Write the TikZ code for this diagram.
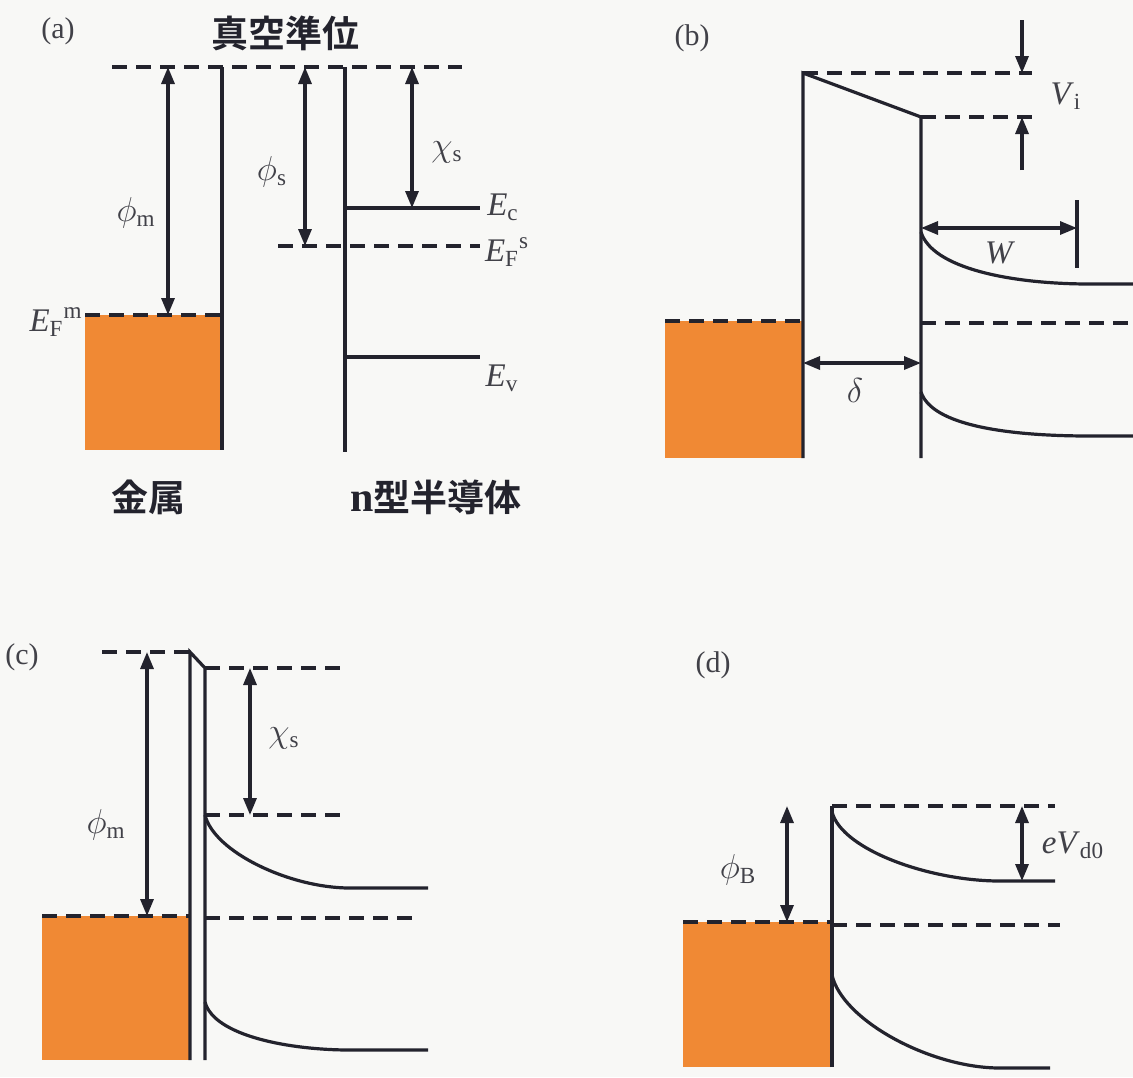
\documentclass[tikz,border=0pt]{standalone}
\usepackage{fontspec}
\setmainfont{Liberation Serif}
\newfontfamily\jpfont{Noto Sans CJK JP}[BoldFont={Noto Sans CJK JP Bold}]
\usetikzlibrary{arrows.meta, positioning}
\definecolor{bandline}{RGB}{35,35,45}
\definecolor{labelgray}{RGB}{65,65,72}
\definecolor{metalfill}{RGB}{240,137,52}
\definecolor{paper}{RGB}{248,248,246}

\begin{document}
\begin{tikzpicture}[x=0.5pt, y=-0.5pt, line width=1.6pt, color=bandline,
    level/.style={dash pattern=on 7.5pt off 4.5pt},
    dim/.style={{Triangle[length=8.5pt,width=6.5pt]}-{Triangle[length=8.5pt,width=6.5pt]}},
    tip/.style={-{Triangle[length=8.5pt,width=6.5pt]}},
    lbl/.style={text=labelgray, font=\fontsize{16.5}{18}\selectfont, inner sep=0pt},
    tag/.style={text=labelgray, font=\fontsize{15}{17}\selectfont, inner sep=0pt},
    cjk/.style={text=bandline, font=\jpfont\bfseries\fontsize{18.5}{20}\selectfont, inner sep=0pt}]
  \fill[paper] (0,0) rectangle (1133,1077);
  \useasboundingbox (0,0) rectangle (1133,1077);

  % (a) before contact
  \fill[metalfill] (85,315) rectangle (221,450);
  \draw (222,67) -- (222,450);
  \draw (345,67) -- (345,452);
  \draw (345,208) -- (480,208);
  \draw (345,357) -- (480,357);
  \draw[level] (112,67) -- (462,67);
  \draw[level] (85,315) -- (222,315);
  \draw[level] (278,246) -- (480,246);
  \coordinate (a1) at (168,67); \coordinate (a2) at (168,315);
  \coordinate (a3) at (305,67); \coordinate (a4) at (305,246);
  \coordinate (a5) at (412,67); \coordinate (a6) at (412,208);
  \draw[dim] (a1) -- (a2);
  \draw[dim] (a3) -- (a4);
  \draw[dim] (a5) -- (a6);
  \node[tag] (tagA) at (58,31) {(a)};
  \node[cjk] (vacA) at (285,33) {真空準位};
  \node[lbl] (phimA) at (136,213) {$\phi_{\mathrm{m}}$};
  \node[lbl] (efmA) at (56,322) {\textit{E}$_{\mathrm{F}}{}^{\mathrm{m}}$};
  \node[lbl] (phisA) at (272,172) {$\phi_{\mathrm{s}}$};
  \node[lbl] (chisA) at (447,152) {$\chi_{\mathrm{s}}$};
  \node[lbl] (ecA) at (503,207) {\textit{E}$_{\mathrm{c}}$};
  \node[lbl] (efsA) at (507,252) {\textit{E}$_{\mathrm{F}}{}^{\mathrm{s}}$};
  \node[lbl] (evA) at (502,378) {\textit{E}$_{\mathrm{v}}$};
  \node[cjk] (metalA) at (148,497) {金属};
  \node[cjk] (semiA) at (436,497) {{\rmfamily\bfseries\fontsize{21}{22}\selectfont n}型半導体};

  % (b) with interface layer
  \fill[metalfill] (665,321) rectangle (802,458);
  \draw (803,458) -- (803,73) -- (921,117) -- (921,458);
  \draw[level] (665,321) -- (803,321);
  \draw[level] (803,73) -- (1032,73);
  \draw[level] (921,117) -- (1040,117);
  \draw[level] (921,323) -- (1133,323);
  \draw (921,232) .. controls (932,268) and (1010,284) .. (1090,284) -- (1133,284);
  \draw (921,392) .. controls (932,426) and (1010,436) .. (1090,436) -- (1133,436);
  \coordinate (b1) at (1022,20); \coordinate (b2) at (1022,73);
  \coordinate (b3) at (1022,170); \coordinate (b4) at (1022,117);
  \coordinate (b5) at (921,228); \coordinate (b6) at (1077,228);
  \coordinate (b7) at (803,363); \coordinate (b8) at (921,363);
  \draw[tip] (b1) -- (b2);
  \draw[tip] (b3) -- (b4);
  \draw[dim] (b5) -- (b6);
  \draw ([yshift=14pt]b6) -- ([yshift=-20pt]b6);
  \draw[dim] (b7) -- (b8);
  \node[tag] (tagB) at (692,38) {(b)};
  \node[lbl] (viB) at (1066,96) {\textit{V}$_{\mathrm{i}}$};
  \node[lbl] (wB) at (1000,253) {\textit{W}};
  \node[lbl] (deltaB) at (855,390) {$\delta$};

  % (c) thin layer
  \fill[metalfill] (42,916) rectangle (189,1060);
  \draw (190,1060) -- (190,652) -- (205,668) -- (205,1060);
  \draw[level] (102,652) -- (190,652);
  \draw[level] (42,916) -- (190,916);
  \draw[level] (205,668) -- (340,668);
  \draw[level] (205,815) -- (340,815);
  \draw[level] (205,918) -- (420,918);
  \draw (205,815) .. controls (214,852) and (290,888) .. (350,888) -- (428,888);
  \draw (205,1002) .. controls (214,1036) and (290,1050) .. (350,1050) -- (428,1050);
  \coordinate (c1) at (147,652); \coordinate (c2) at (147,916);
  \coordinate (c3) at (250,668); \coordinate (c4) at (250,815);
  \draw[dim] (c1) -- (c2);
  \draw[dim] (c3) -- (c4);
  \node[tag] (tagC) at (22,657) {(c)};
  \node[lbl] (phimC) at (106,825) {$\phi_{\mathrm{m}}$};
  \node[lbl] (chisC) at (284,738) {$\chi_{\mathrm{s}}$};

  % (d) ideal contact
  \fill[metalfill] (683,922) rectangle (831,1067);
  \draw (832,1067) -- (832,806);
  \draw[level] (832,806) -- (1055,806);
  \draw[level] (683,922) -- (832,922);
  \draw[level] (832,925) -- (1060,925);
  \draw (832,812) .. controls (842,850) and (930,881) .. (1000,881) -- (1055,881);
  \draw (832,975) .. controls (842,1020) and (930,1068) .. (1000,1068) -- (1050,1068);
  \coordinate (d1) at (787,806); \coordinate (d2) at (787,922);
  \coordinate (d3) at (1022,806); \coordinate (d4) at (1022,881);
  \draw[dim] (d1) -- (d2);
  \draw[dim] (d3) -- (d4);
  \node[tag] (tagD) at (713,665) {(d)};
  \node[lbl] (phiBD) at (738,870) {$\phi_{\mathrm{B}}$};
  \node[lbl] (evdD) at (1073,845) {\textit{eV}$_{\mathrm{d0}}$};
\end{tikzpicture}
\end{document}
